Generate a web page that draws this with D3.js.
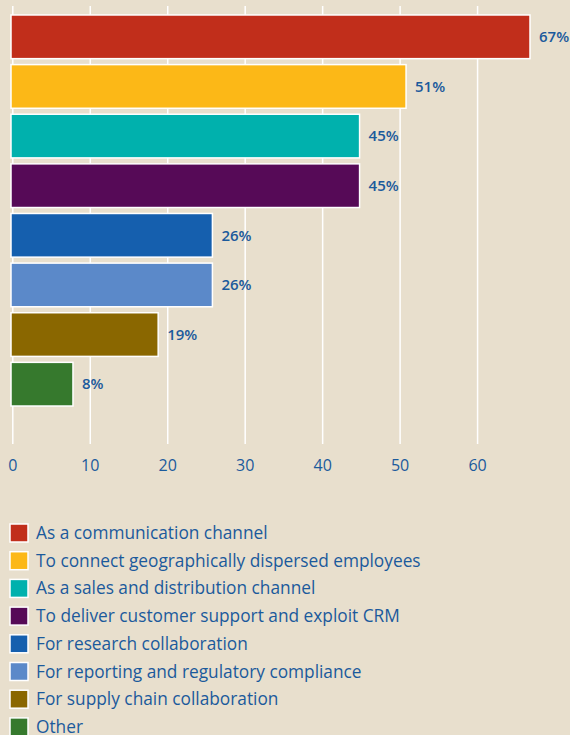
<!DOCTYPE html>
<html>
<head>
<meta charset="utf-8">
<script src="https://cdn.jsdelivr.net/npm/d3@7/dist/d3.min.js"></script>
<style>
  html, body { margin: 0; padding: 0; background: #e8dfcd; }
  svg { display: block; }
</style>
</head>
<body>
<svg id="chart" width="570" height="735"></svg>
<script>
// Uses of the platform, share of respondents (%)
const categories = [
  "As a communication channel",
  "To connect geographically dispersed employees",
  "As a sales and distribution channel",
  "To deliver customer support and exploit CRM",
  "For research collaboration",
  "For reporting and regulatory compliance",
  "For supply chain collaboration",
  "Other"
];
const values = [67, 51, 45, 45, 26, 26, 19, 8];
const colors = ["#c12e1b", "#fcb817", "#00b1ad", "#560a57", "#155fae", "#5b89c9", "#8a6700", "#36792d"];
const tickValues = [0, 10, 20, 30, 40, 50, 60];

const svg = d3.select("#chart");
const textColor = "#1b5a9c";
const font = "'Open Sans', 'Noto Sans', sans-serif";

const x = d3.scaleLinear().domain([0, 67]).range([11, 530]);
const y = d3.scaleBand().domain(categories).range([12, 409]).paddingInner(0.12).paddingOuter(0.06);

// vertical gridlines
const grid = svg.append("g")
  .attr("transform", "translate(0,444)")
  .call(d3.axisBottom(x).tickValues(tickValues).tickSize(-438).tickFormat(""));
grid.select(".domain").remove();
grid.selectAll(".tick line").attr("stroke", "#ffffff").attr("stroke-width", 1.5)
  .attr("transform", "translate(1.3,0)");

// tick labels
const axis = svg.append("g")
  .attr("transform", "translate(0,460)")
  .call(d3.axisBottom(x).tickValues(tickValues).tickSize(0).tickPadding(0));
axis.select(".domain").remove();
axis.selectAll(".tick text")
  .attr("font-family", font)
  .attr("font-size", 16)
  .attr("font-weight", 500)
  .attr("fill", textColor)
  .attr("dy", "0.71em")
  .attr("dx", 1.3);

// bars
svg.append("g").selectAll("rect")
  .data(values)
  .join("rect")
  .attr("x", x(0))
  .attr("y", (d, i) => y(categories[i]))
  .attr("width", d => x(d) - x(0))
  .attr("height", y.bandwidth())
  .attr("fill", (d, i) => colors[i])
  .attr("stroke", "#ffffff")
  .attr("stroke-width", 1.5);

// value labels
svg.append("g").selectAll("text")
  .data(values)
  .join("text")
  .attr("x", d => x(d) + 9)
  .attr("y", (d, i) => y(categories[i]) + y.bandwidth() / 2)
  .attr("dy", "0.35em")
  .attr("font-family", font)
  .attr("font-size", 15)
  .attr("font-weight", 600)
  .attr("fill", textColor)
  .text(d => d + "%");

// legend
const legend = svg.append("g").selectAll("g")
  .data(categories)
  .join("g")
  .attr("transform", (d, i) => `translate(10,${524 + i * 27.7})`);
legend.append("rect")
  .attr("width", 18)
  .attr("height", 18)
  .attr("fill", (d, i) => colors[i])
  .attr("stroke", "#ffffff")
  .attr("stroke-width", 1.5);
legend.append("text")
  .attr("x", 26)
  .attr("y", 9)
  .attr("dy", "0.35em")
  .attr("font-family", font)
  .attr("font-size", 17.3)
  .attr("fill", textColor)
  .text(d => d);
</script>
</body>
</html>
